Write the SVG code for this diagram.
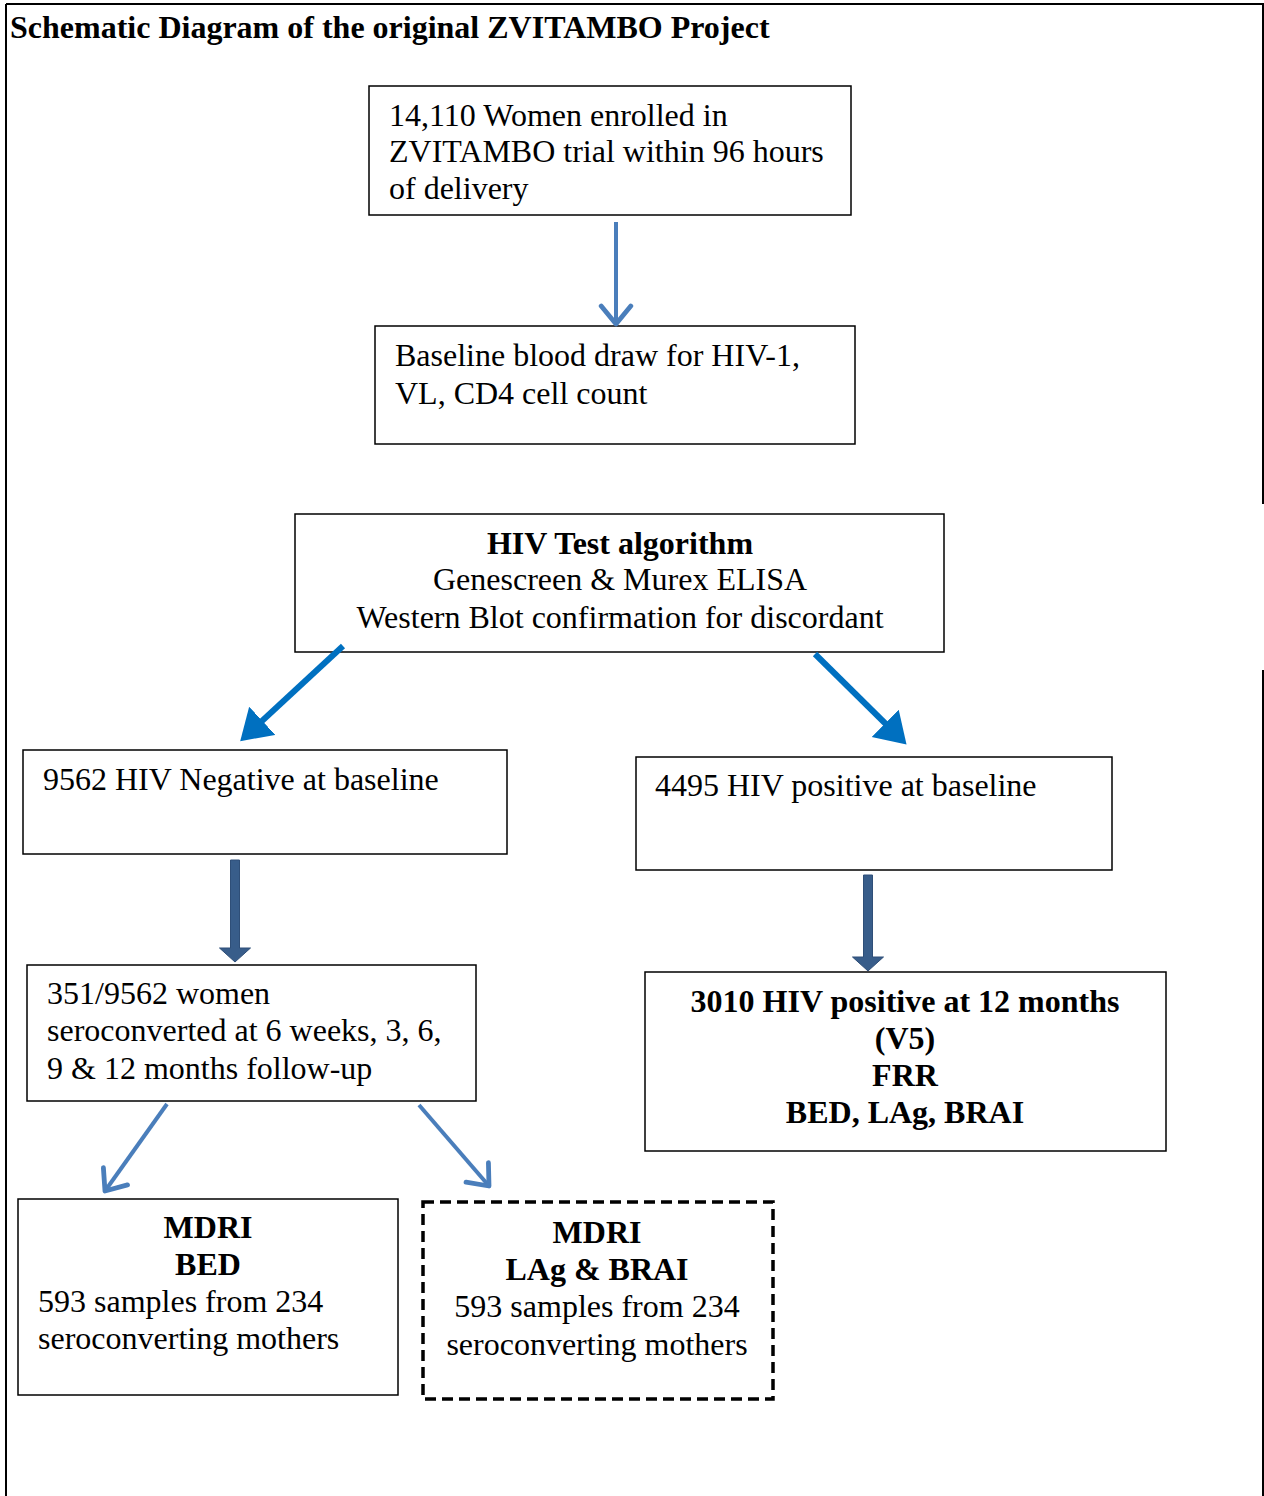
<svg xmlns="http://www.w3.org/2000/svg" width="1264" height="1496" viewBox="0 0 1264 1496">
<style>
.box{fill:#fff;stroke:#000;stroke-width:1.5}
.t{font-family:"Liberation Serif","Times New Roman",serif;font-size:32px;fill:#000}
.b{font-weight:bold}
.c{text-anchor:middle}
.frame{stroke:#000;stroke-width:2;fill:none}
</style>
<defs>
<marker id="open" markerWidth="9" markerHeight="9" refX="5.5" refY="4.5" orient="auto" markerUnits="strokeWidth"><path d="M1,0.8 L5.5,4.5 L1,8.2" fill="none" stroke="#4a7ebb" stroke-width="1.2" stroke-linecap="round" stroke-linejoin="round"/></marker>
<marker id="tri" markerWidth="7" markerHeight="7" refX="3" refY="3.2" orient="auto" markerUnits="strokeWidth"><path d="M0,0 L5,3.2 L0,6.4 Z" fill="#0070c0"/></marker>
</defs>
<g id="frame">
<line class="frame" x1="6" y1="4" x2="1264" y2="4"/>
<line class="frame" x1="6" y1="4" x2="6" y2="1496"/>
<line class="frame" x1="1263" y1="4" x2="1263" y2="504"/>
<line class="frame" x1="1263" y1="670" x2="1263" y2="1496"/>
</g>
<text class="t b" x="10" y="38">Schematic Diagram of the original ZVITAMBO Project</text>
<g id="n1"><rect class="box" x="369" y="86" width="482" height="129"/>
<text class="t" x="389" y="126">14,110 Women enrolled in</text>
<text class="t" x="389" y="162">ZVITAMBO trial within 96 hours</text>
<text class="t" x="389" y="199">of delivery</text></g>
<g id="n2"><rect class="box" x="375" y="326" width="480" height="118"/>
<text class="t" x="395" y="366">Baseline blood draw for HIV-1,</text>
<text class="t" x="395" y="404">VL, CD4 cell count</text></g>
<g id="n3"><rect class="box" x="295" y="514" width="649" height="138" stroke-width="2"/>
<text class="t b c" x="620" y="554">HIV Test algorithm</text>
<text class="t c" x="620" y="590">Genescreen &amp; Murex ELISA</text>
<text class="t c" x="620" y="628">Western Blot confirmation for discordant</text></g>
<g id="n4"><rect class="box" x="23" y="750" width="484" height="104"/>
<text class="t" x="43" y="790">9562 HIV Negative at baseline</text></g>
<g id="n5"><rect class="box" x="636" y="757" width="476" height="113"/>
<text class="t" x="655" y="796">4495 HIV positive at baseline</text></g>
<g id="n6"><rect class="box" x="27" y="965" width="449" height="136"/>
<text class="t" x="47" y="1004">351/9562 women</text>
<text class="t" x="47" y="1041">seroconverted at 6 weeks, 3, 6,</text>
<text class="t" x="47" y="1079">9 &amp; 12 months follow-up</text></g>
<g id="n7"><rect class="box" x="645" y="972" width="521" height="179"/>
<text class="t b c" x="905" y="1012">3010 HIV positive at 12 months</text>
<text class="t b c" x="905" y="1049">(V5)</text>
<text class="t b c" x="905" y="1086">FRR</text>
<text class="t b c" x="905" y="1123">BED, LAg, BRAI</text></g>
<g id="n8"><rect class="box" x="18" y="1199" width="380" height="196"/>
<text class="t b c" x="208" y="1238">MDRI</text>
<text class="t b c" x="208" y="1275">BED</text>
<text class="t" x="38" y="1312">593 samples from 234</text>
<text class="t" x="38" y="1349">seroconverting mothers</text></g>
<g id="n9"><rect x="423" y="1202" width="350" height="197" fill="#fff" stroke="#000" stroke-width="3.5" stroke-dasharray="11,6"/>
<text class="t b c" x="597" y="1243">MDRI</text>
<text class="t b c" x="597" y="1280">LAg &amp; BRAI</text>
<text class="t c" x="597" y="1317">593 samples from 234</text>
<text class="t c" x="597" y="1355">seroconverting mothers</text></g>
<g id="connectors">
<line x1="616" y1="222" x2="616" y2="324" stroke="#4a7ebb" stroke-width="4" marker-end="url(#open)"/>
<line x1="343" y1="646" x2="249" y2="733" stroke="#0070c0" stroke-width="6" marker-end="url(#tri)"/>
<line x1="815" y1="654" x2="898" y2="736" stroke="#0070c0" stroke-width="6" marker-end="url(#tri)"/>
<path d="M230.5,860 h9 v88 h11 l-15.5,14 l-15.5,-14 h11 z" fill="#385d8a" stroke="#2f4f78" stroke-width="1"/>
<path d="M863.5,875 h9 v82 h11 l-15.5,14 l-15.5,-14 h11 z" fill="#385d8a" stroke="#2f4f78" stroke-width="1"/>
<line x1="167" y1="1104" x2="105" y2="1191" stroke="#4a7ebb" stroke-width="4" marker-end="url(#open)"/>
<line x1="419" y1="1105" x2="489" y2="1186" stroke="#4a7ebb" stroke-width="4" marker-end="url(#open)"/>
</g>
</svg>
